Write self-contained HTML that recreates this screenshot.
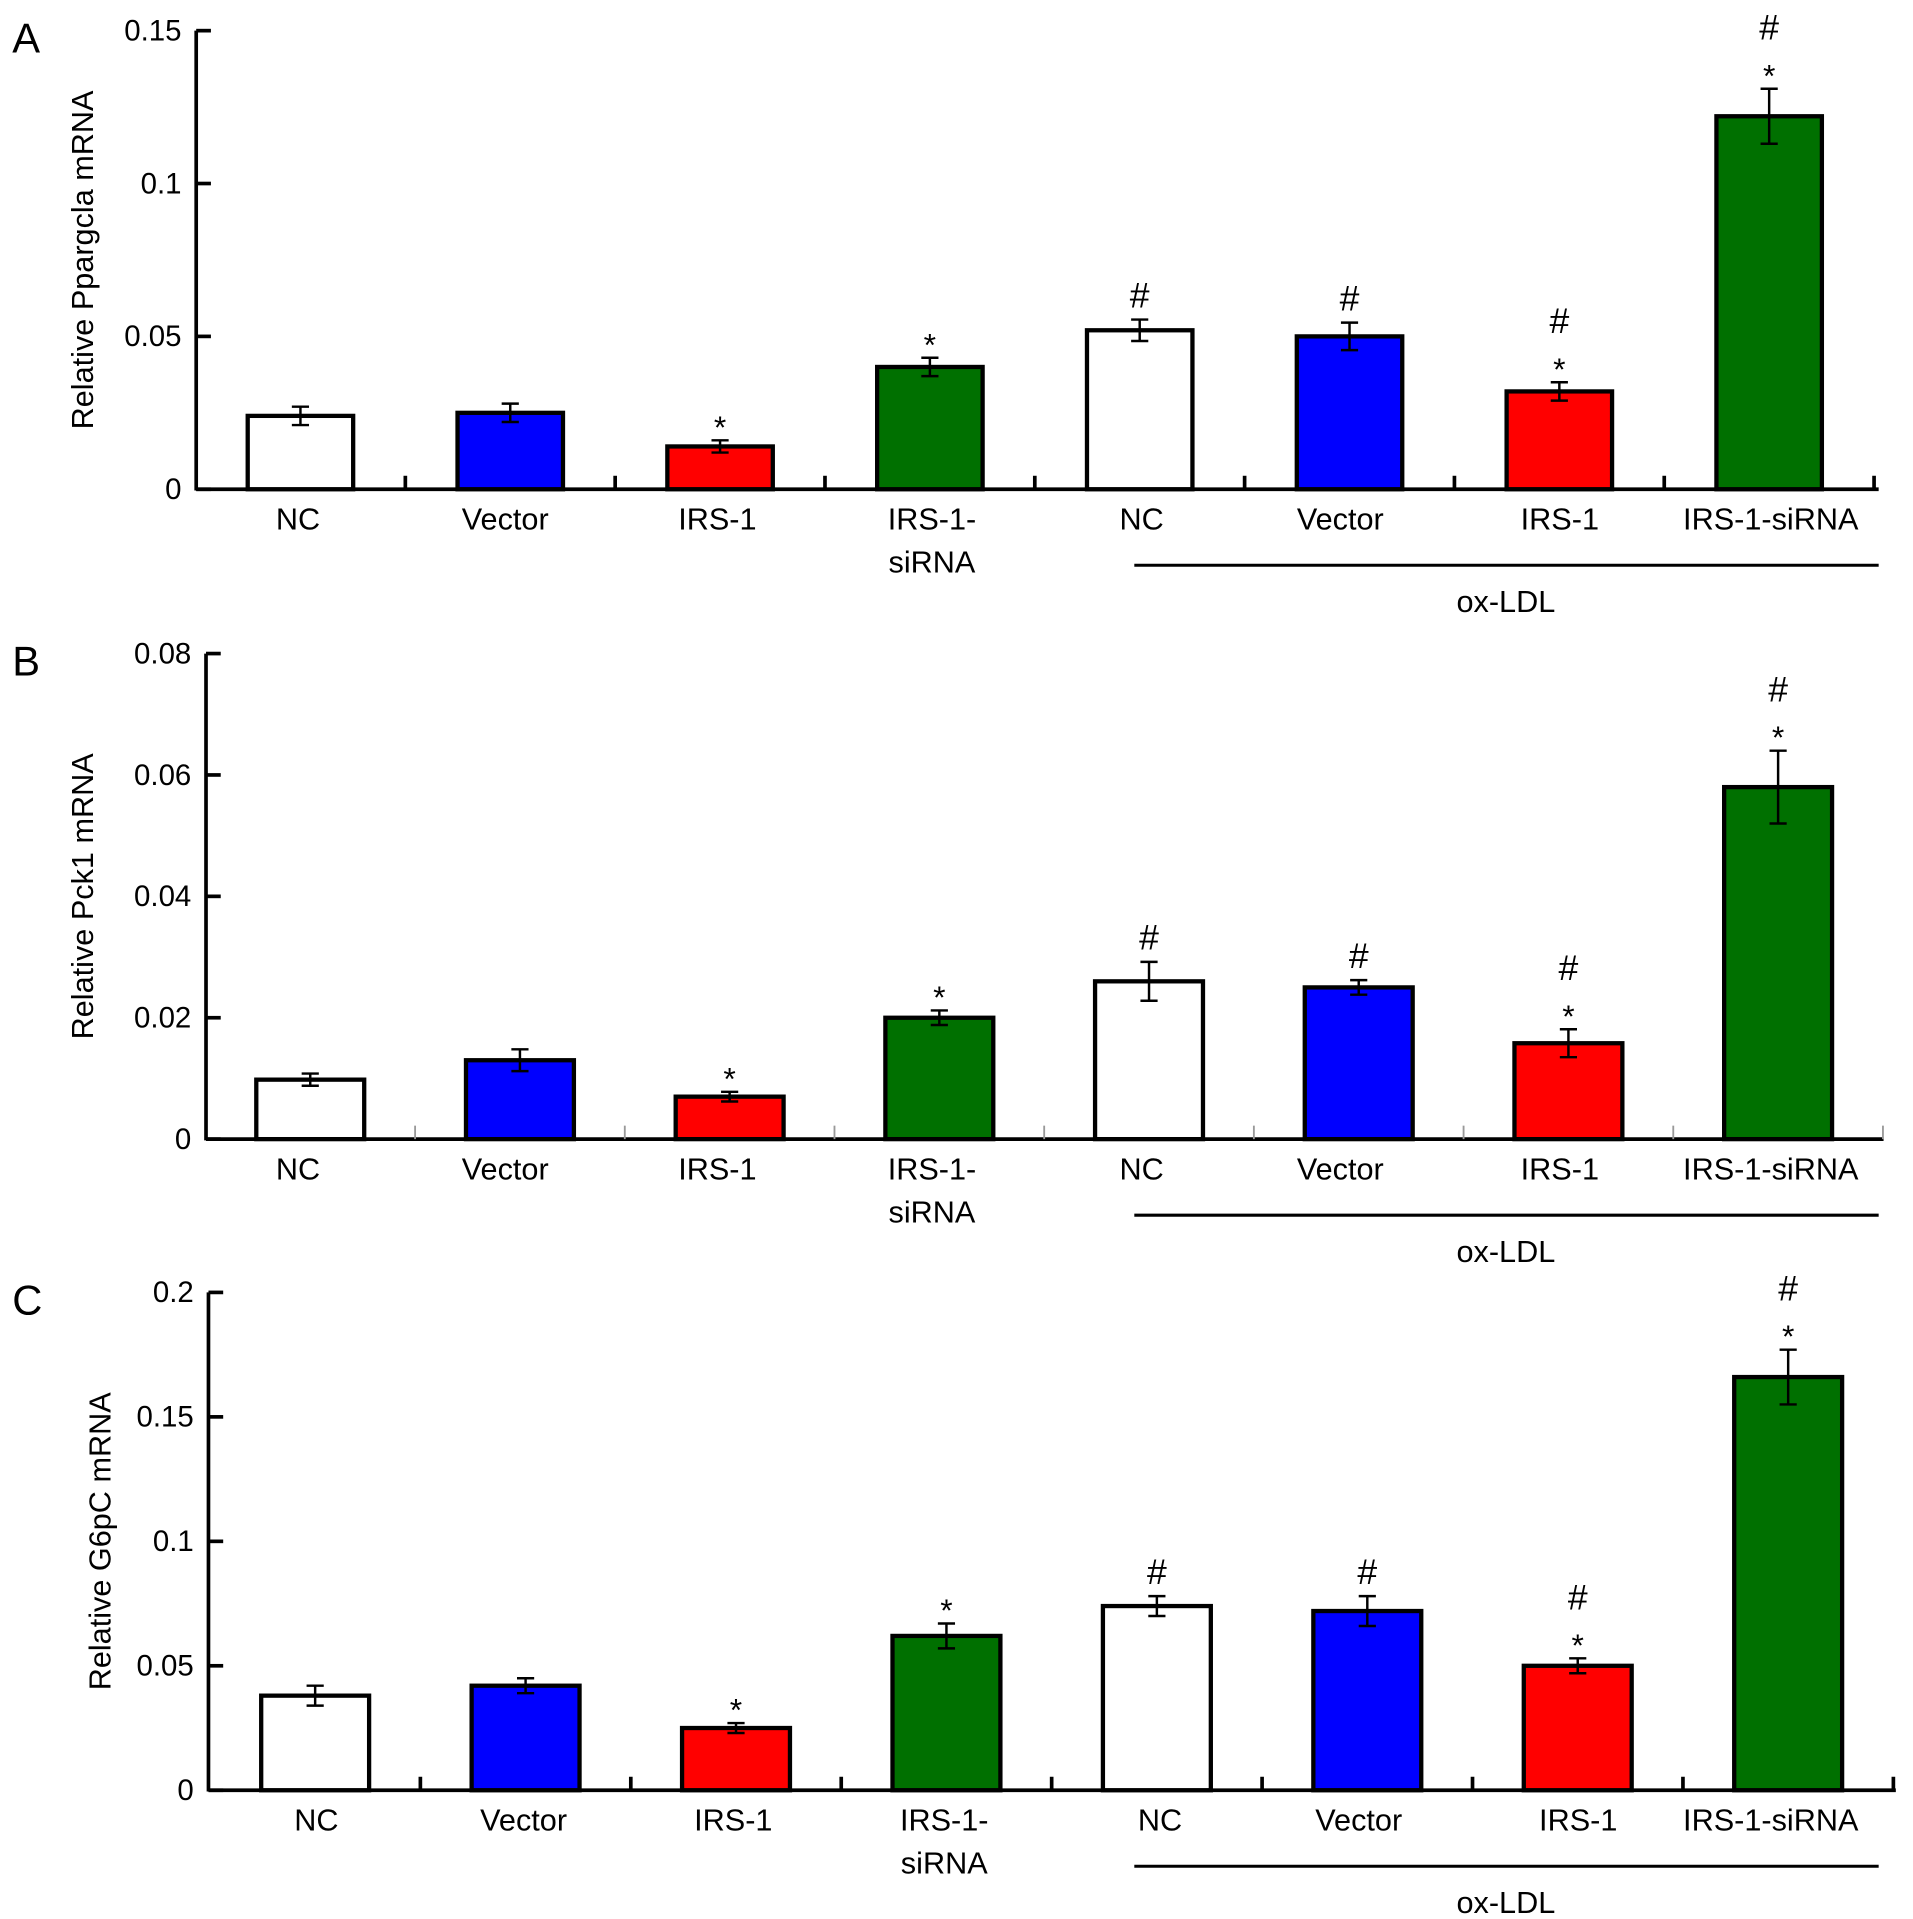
<!DOCTYPE html>
<html><head><meta charset="utf-8"><style>
html,body{margin:0;padding:0;background:#fff;}
svg{display:block;font-family:"Liberation Sans",Arial,sans-serif;}
</style></head><body>
<svg id="fig" width="1913" height="1919" viewBox="0 0 1560 1565" preserveAspectRatio="none" xmlns="http://www.w3.org/2000/svg"></svg>
<script>
const categories = ["NC","Vector","IRS-1","IRS-1-siRNA","NC","Vector","IRS-1","IRS-1-siRNA"];
const colors = ["#ffffff","#0000ff","#ff0000","#007000","#ffffff","#0000ff","#ff0000","#007000"];
const valuesA = [0.024,0.025,0.014,0.040,0.052,0.050,0.032,0.122];
const errorsA = [0.003,0.003,0.002,0.003,0.0035,0.0045,0.003,0.009];
const marksA = ["","","*","*","#","#","#*","#*"];
const ticksA = [0,0.05,0.1,0.15];
const tickLabelsA = ["0","0.05","0.1","0.15"];
const valuesB = [0.0098,0.013,0.007,0.020,0.026,0.025,0.0158,0.058];
const errorsB = [0.001,0.0018,0.0008,0.0012,0.0032,0.0012,0.0023,0.006];
const marksB = ["","","*","*","#","#","#*","#*"];
const ticksB = [0,0.02,0.04,0.06,0.08];
const tickLabelsB = ["0","0.02","0.04","0.06","0.08"];
const valuesC = [0.038,0.042,0.025,0.062,0.074,0.072,0.050,0.166];
const errorsC = [0.004,0.003,0.002,0.005,0.004,0.006,0.003,0.011];
const marksC = ["","","*","*","#","#","#*","#*"];
const ticksC = [0,0.05,0.1,0.15,0.2];
const tickLabelsC = ["0","0.05","0.1","0.15","0.2"];

const NS="http://www.w3.org/2000/svg";
const svg=document.getElementById('fig');
function mk(tag,attrs,parent,text){const e=document.createElementNS(NS,tag);for(const k in attrs)e.setAttribute(k,attrs[k]);if(text!==undefined)e.textContent=text;(parent||svg).appendChild(e);return e;}

function panel(p){
  const g=mk('g',{});
  
  
  const y=v=>p.y0-(v/p.max)*(p.y0-p.yTop);
  const x=i=>p.x0+p.first+i*p.step;
  const pl=mk('text',{x:10,y:p.yTop+18,'font-size':34},g,p.id);
  
  p.values.forEach((v,i)=>{
    const r=mk('rect',{x:x(i)-p.bw/2,y:y(v),width:p.bw,height:p.y0-y(v),fill:colors[i],stroke:'#000','stroke-width':3.5},g);
    
    
    const e=p.errors[i],cx=x(i);
    const eb=mk('path',{d:`M${cx},${y(v+e)}V${y(v-e)}M${cx-7},${y(v+e)}H${cx+7}M${cx-7},${y(v-e)}H${cx+7}`,stroke:'#000','stroke-width':2,fill:'none'},g);
    
    const m=p.marks[i];let top=y(v+e)-10;
    if(m.includes('*')){const s=mk('text',{x:cx,y:top+8,'font-size':26,'text-anchor':'middle'},g,'*');top-=30;}
    if(m.includes('#')){const h=mk('text',{x:cx,y:top,'font-size':29,'text-anchor':'middle'},g,'#');}
  });
  const ya=mk('line',{x1:p.x0,y1:p.yTop,x2:p.x0,y2:p.y0+1,stroke:'#000','stroke-width':3},g);
  
  const xa=mk('line',{x1:p.x0,y1:p.y0,x2:p.xEnd,y2:p.y0,stroke:'#000','stroke-width':3},g);
  
  p.ticks.forEach((t,i)=>{
    mk('line',{x1:p.x0,y1:y(t),x2:p.x0+12,y2:y(t),stroke:'#000','stroke-width':3},g);
    const tl=mk('text',{x:p.x0-12,y:y(t)+8,'font-size':24,'text-anchor':'end'},g,p.tickLabels[i]);
    
  });
  for(let i=1;i<=8;i++){const tx=x(i)-p.step/2;mk('line',{x1:tx,y1:p.y0,x2:tx,y2:p.y0-11,stroke:p.tickColor,'stroke-width':p.tickW},g);}
  const yl=mk('text',{transform:`translate(${p.ylx},${(p.yTop+p.y0)/2}) rotate(-90)`,'font-size':25,'text-anchor':'middle'},g,p.ylabel);
  
  categories.forEach((c,i)=>{
    const lx=p.labelX[i];
    if(i===3){
      const a=mk('text',{x:lx,y:p.y0+33,'font-size':25,'text-anchor':'middle'},g,'IRS-1-');
      
      const b=mk('text',{x:lx,y:p.y0+68,'font-size':25,'text-anchor':'middle'},g,'siRNA');
      
    } else {
      const a=mk('text',{x:lx,y:p.y0+33,'font-size':25,'text-anchor':'middle'},g,c);
      
    }
  });
  const br=mk('line',{x1:925,y1:p.y0+62,x2:1532,y2:p.y0+62,stroke:'#000','stroke-width':2.5},g);
  
  const ol=mk('text',{x:1228,y:p.y0+100,'font-size':25,'text-anchor':'middle'},g,'ox-LDL');
  
}

panel({id:'A',x0:160,xEnd:1532,yTop:25,y0:399,max:0.15,first:85,step:171.1,bw:86,values:valuesA,errors:errorsA,marks:marksA,ticks:ticksA,tickLabels:tickLabelsA,ylabel:'Relative Ppargcla mRNA',ylx:76,tickColor:'#000',tickW:3,labelX:[243,412,585,760,931,1093,1272,1444]});
panel({id:'B',x0:168,xEnd:1536,yTop:533,y0:929,max:0.08,first:85,step:171,bw:88,values:valuesB,errors:errorsB,marks:marksB,ticks:ticksB,tickLabels:tickLabelsB,ylabel:'Relative Pck1 mRNA',ylx:76,tickColor:'#999',tickW:1.5,labelX:[243,412,585,760,931,1093,1272,1444]});
panel({id:'C',x0:170,xEnd:1546,yTop:1054,y0:1460,max:0.2,first:87,step:171.6,bw:88,values:valuesC,errors:errorsC,marks:marksC,ticks:ticksC,tickLabels:tickLabelsC,ylabel:'Relative G6pC mRNA',ylx:90,tickColor:'#000',tickW:3,labelX:[258,427,598,770,946,1108,1287,1444]});
</script>
</body></html>
